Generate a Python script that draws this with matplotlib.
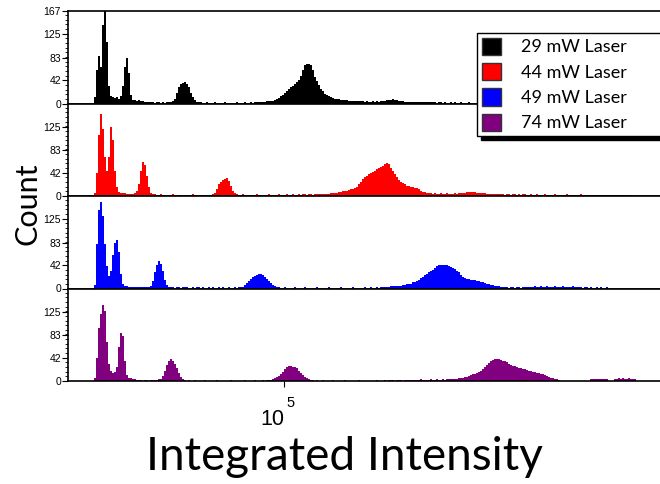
import numpy as np
import matplotlib
matplotlib.use('Agg')
import matplotlib.pyplot as plt
from matplotlib.patches import Patch
from matplotlib.ticker import FixedLocator, AutoMinorLocator, NullLocator

labels = ['29 mW Laser', '44 mW Laser', '49 mW Laser', '74 mW Laser']
colors = ['#000000', '#ff0000', '#0000ff', '#800080']
y_ticks = [0, 42, 83, 125, 167]

# histogram bins, log10 of integrated intensity
log_lo, log_hi, n_bins = 4.46, 5.94, 296
edges = np.logspace(log_lo, log_hi, n_bins + 1)


def pad(v):
    return v + [0] * (n_bins - len(v))


counts_29 = pad([0] * 13
                + [10, 60, 85, 65, 140, 167, 110, 30, 12, 10, 9, 10, 8, 12, 30, 65, 82, 55, 15, 6,
                   5, 4, 5, 3, 3, 2, 2, 1, 1]
                + [1, 0, 1, 1, 0, 1, 0, 1, 1, 2]
                + [3, 8, 18, 28, 34, 37, 38, 35, 28, 18, 10, 5, 2, 1]
                + [1, 0, 0, 1, 0, 0, 0, 1, 0, 0, 0, 0, 1, 0, 0, 0, 0, 0, 1, 0,
                   0, 0, 1, 0, 0, 1, 0, 1, 1, 1, 2]
                + [2, 2, 3, 3, 4, 4, 5, 7, 9, 12, 15, 18, 21, 25, 28, 31, 34, 38, 42, 48,
                   60, 68, 71, 70, 68, 60, 47, 40, 33, 26, 21, 17, 14, 12, 10, 9, 8, 7, 7, 6,
                   6, 5, 5, 4, 4, 4, 3, 4, 3, 3]
                + [3, 2, 3, 2, 2, 3, 2, 3, 2, 3]
                + [3, 4, 5, 6, 6, 7, 6, 5, 4, 3]
                + [3, 2, 2, 2, 2, 2, 1, 2, 1, 2, 1, 1, 2, 1, 1, 1]
                + [1, 0, 1, 1, 0, 1, 0, 0, 1, 0, 1, 0, 0, 1, 0, 0, 0, 1, 0, 0])

counts_44 = pad([0] * 13
                + [5, 40, 110, 148, 120, 70, 45, 70, 123, 100, 45, 15, 6, 5, 4, 4, 3, 3, 3, 3,
                   4, 8, 20, 45, 60, 55, 35, 15, 5, 2]
                + [2, 1, 1, 2, 1, 1, 0, 1, 1, 2, 1, 0, 1, 1, 0, 1, 1, 0, 1, 2,
                   1, 1, 0, 1, 1, 1, 0, 1, 1]
                + [2, 5, 12, 20, 25, 28, 30, 32, 27, 18, 9, 4, 2]
                + [1, 1, 2, 1, 1, 0, 1, 1, 1, 2, 1, 1, 0, 1, 1, 2, 1, 1, 1, 1,
                   2, 1, 1, 1, 2, 1, 1, 2, 1, 1, 2, 1, 2, 2, 1, 2, 2, 1, 2, 2]
                + [2, 2, 3, 3, 3, 3, 4, 4, 5, 5]
                + [6, 7, 8, 8, 9, 10, 11, 12, 14, 16, 20, 25, 30, 34, 36, 38, 40, 42, 45, 47,
                   49, 52, 54, 57, 59, 56, 50, 44, 38, 33, 28, 25, 22, 20, 18, 17, 16, 15, 14, 13,
                   11, 9, 7, 6, 5, 4]
                + [4, 3, 4, 3, 3, 4, 3, 3, 4, 3, 3, 3, 4, 3, 4, 4, 5, 5, 6, 6,
                   7, 6, 6, 5, 5, 4, 4, 4, 3, 3]
                + [3, 2, 2, 3, 2, 2, 2, 1, 2, 2, 1, 2, 2, 1, 2, 1, 2, 2, 1, 1,
                   2, 1, 1, 2, 1, 1, 1, 2, 1, 1, 1, 1, 2, 1, 1, 1, 1, 1, 2, 1,
                   1, 1, 1, 1, 1, 2, 1, 1, 1, 1, 1, 1, 1, 1, 1, 1, 1, 1, 1, 1,
                   1, 1, 1, 1, 1, 1, 1, 1, 1, 1])

counts_49 = pad([0] * 13
                + [5, 80, 140, 156, 130, 80, 40, 22, 30, 60, 82, 87, 65, 25, 8, 4, 3, 2, 2, 1,
                   1, 1, 2, 2, 1, 1, 2, 2, 4, 12, 28, 42, 49, 44, 30, 15, 6, 2]
                + [1, 1, 0, 1, 1, 0, 1, 1, 1, 0, 0, 1, 0, 1, 1, 0, 1, 0, 0, 1,
                   0, 1, 0, 0, 1, 0, 1, 0, 0, 1, 0, 0, 1, 0, 1, 1]
                + [2, 5, 9, 13, 16, 19, 22, 24, 25, 25, 23, 20, 16, 12, 9, 6, 4, 2]
                + [1, 0, 0, 1, 0, 0, 0, 0, 1, 0, 0, 0, 0, 1, 0, 0, 0, 0, 0, 1,
                   0, 0, 0, 0, 0, 1, 0, 0, 0, 0, 0, 1, 0, 0, 0, 0, 0, 1, 0, 0,
                   0, 0, 0, 1, 0, 0, 1, 0, 0, 1, 0, 1, 1, 1]
                + [2, 2, 3, 3, 3, 3, 4, 4, 5, 6, 7, 8, 8, 10, 11, 13, 15, 18, 20, 23,
                   25, 28, 31, 33, 36, 39, 41, 42, 42, 42, 41, 40, 38, 36, 34, 31, 28, 24, 20, 18,
                   17, 16, 15, 15, 14, 13, 12, 11, 10, 9, 8, 7, 6, 5, 4, 4, 3, 2]
                + [1, 1, 1, 0, 1, 1, 0, 1, 1, 0, 1, 1, 1, 1,
                   2, 2, 3, 2, 2, 3, 2, 2, 3, 2, 2, 2, 3, 2, 2, 2, 3, 2, 2, 2,
                   2, 3, 2, 1, 1, 1, 0, 1, 1, 0, 1, 0, 0, 1, 0, 1, 0, 0, 1, 0])

counts_74 = pad([0] * 13
                + [5, 40, 95, 120, 136, 125, 70, 30, 18, 14, 15, 25, 60, 85, 80, 35, 10, 5, 4, 3,
                   2, 1, 1, 1, 0, 1, 1, 0, 1, 1, 1, 1, 2, 3, 8, 18, 28, 35, 38, 36,
                   30, 22, 14, 7, 3, 1]
                + [0, 1, 0, 0, 1, 0, 0, 0, 0, 1, 0, 0, 0, 0, 0, 1, 0, 0, 0, 0,
                   0, 0, 1, 0, 0, 0, 0, 0, 0, 1, 0, 0, 0, 0, 1, 0, 0, 0, 1, 0,
                   1, 1, 1]
                + [2, 4, 6, 9, 12, 16, 20, 24, 26, 26, 25, 24, 22, 18, 14, 10, 7, 4, 2]
                + [1, 1, 0, 1, 0, 0, 1, 0, 0, 0, 0, 1, 0, 0, 0, 0, 0, 1, 0, 0,
                   0, 0, 0, 0, 1, 0, 0, 0, 0, 0, 0, 0, 0, 1, 0, 0, 0, 1, 0, 1,
                   1, 1, 0, 1, 1, 1, 0, 1, 1, 1, 1, 1, 1, 1, 1, 2, 1, 1, 1, 1,
                   2, 1, 1, 2, 1, 1, 2, 1, 2, 2]
                + [2, 3, 3, 3, 4, 4, 5, 6, 7, 8, 10, 11, 12, 14, 16, 18, 21, 24, 28, 32,
                   35, 37, 38, 38, 38, 37, 36, 35, 33, 30, 28, 27, 26, 25, 23, 22, 21, 20, 19, 18,
                   17, 16, 15, 14, 13, 12, 11, 10, 8, 7, 5, 4, 3, 2, 1]
                + [0] * 15 + [2, 3, 3, 2, 3, 3, 2, 3, 2] + [0, 0, 0]
                + [3, 3, 4, 3, 4, 3, 3, 4, 3, 3, 3])

all_counts = [counts_29, counts_44, counts_49, counts_74]

fig = plt.figure(figsize=(6.6, 4.84), dpi=100)
left, right = 68 / 660, 1.0
bottom, top = 1 - 381 / 484, 1 - 11 / 484
h = (top - bottom) / 4

for k, (c, col) in enumerate(zip(all_counts, colors)):
    ax = fig.add_axes([left, top - (k + 1) * h, right - left, h])
    ax.fill_between(edges, np.append(c, c[-1]), step='post',
                    facecolor=col, edgecolor='none', lw=0, antialiased=False)
    ax.set_xscale('log')
    ax.set_xlim(edges[0], edges[-1])
    ax.set_ylim(0, 167)
    ax.spines['right'].set_visible(False)
    for s in ['left', 'top', 'bottom']:
        ax.spines[s].set_linewidth(1.2)
        ax.spines[s].set_zorder(3)
    ticks = y_ticks if k == 0 else y_ticks[:-1]
    ax.yaxis.set_major_locator(FixedLocator(ticks))
    ax.set_yticklabels([str(t) for t in ticks], fontsize=7.5, family='Liberation Sans')
    ax.yaxis.set_minor_locator(AutoMinorLocator(5))
    ax.tick_params(axis='y', which='major', direction='out', length=4, width=0.8, pad=1)
    ax.tick_params(axis='y', which='minor', direction='out', length=2, width=0.6)
    ax.xaxis.set_minor_locator(NullLocator())
    if k == 3:
        ax.xaxis.set_major_locator(FixedLocator([1e5]))
        ax.set_xticklabels([''])
        ax.tick_params(axis='x', direction='out', length=4, width=0.8)
        # 10^5 label drawn as base and raised exponent
        ax.annotate('10', xy=(1e5, 0), xycoords=('data', 'axes fraction'),
                    xytext=(0.3, -31.5), textcoords='offset points',
                    ha='right', va='baseline', fontsize=15.5, family='Liberation Sans')
        ax.annotate('5', xy=(1e5, 0), xycoords=('data', 'axes fraction'),
                    xytext=(2.0, -18.8), textcoords='offset points',
                    ha='left', va='baseline', fontsize=10.5, family='Liberation Sans')
    else:
        ax.xaxis.set_major_locator(NullLocator())

handles = [Patch(facecolor=col, edgecolor='#333333', lw=1) for col in colors]
fig.legend(handles, labels, loc='upper left', bbox_to_anchor=(477 / 660, 1 - 33 / 484, 0.3, 0),
           mode='expand', prop={'family': 'Lato', 'size': 13}, handlelength=1.1, handleheight=1.1,
           labelspacing=0.42, handletextpad=1.1, borderpad=0.25, borderaxespad=0,
           fancybox=False, framealpha=1, edgecolor='black',
           shadow={'ox': 3, 'oy': -3, 'color': 'black', 'alpha': 1})

fig.text(27 / 660, 1 - 204 / 484, 'Count', rotation=90, ha='center', va='center',
         fontsize=22, family='Lato')
fig.text(344 / 660, 1 - 457 / 484, 'Integrated Intensity', ha='center', va='center',
         fontsize=33, family='Lato')

fig.savefig('out.png', dpi=100)
